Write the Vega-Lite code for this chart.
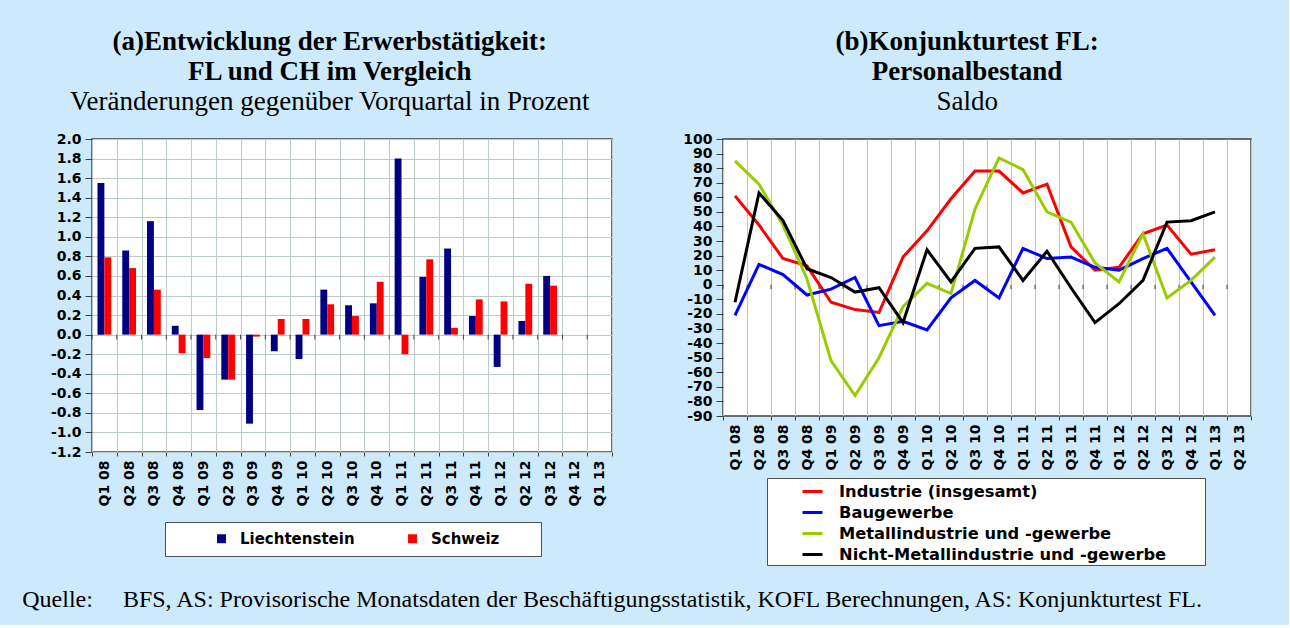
{
  "$schema": "https://vega.github.io/schema/vega-lite/v6.json",
  "background": "#cdeafc",
  "padding": {"left": 22, "top": 27, "right": 36, "bottom": 12},
  "datasets": {
    "erwerb": [
      {"q": "Q1 08", "land": "Liechtenstein", "v": 1.55}, {"q": "Q1 08", "land": "Schweiz", "v": 0.79},
      {"q": "Q2 08", "land": "Liechtenstein", "v": 0.86}, {"q": "Q2 08", "land": "Schweiz", "v": 0.68},
      {"q": "Q3 08", "land": "Liechtenstein", "v": 1.16}, {"q": "Q3 08", "land": "Schweiz", "v": 0.46},
      {"q": "Q4 08", "land": "Liechtenstein", "v": 0.09}, {"q": "Q4 08", "land": "Schweiz", "v": -0.19},
      {"q": "Q1 09", "land": "Liechtenstein", "v": -0.77}, {"q": "Q1 09", "land": "Schweiz", "v": -0.24},
      {"q": "Q2 09", "land": "Liechtenstein", "v": -0.46}, {"q": "Q2 09", "land": "Schweiz", "v": -0.46},
      {"q": "Q3 09", "land": "Liechtenstein", "v": -0.91}, {"q": "Q3 09", "land": "Schweiz", "v": -0.02},
      {"q": "Q4 09", "land": "Liechtenstein", "v": -0.17}, {"q": "Q4 09", "land": "Schweiz", "v": 0.16},
      {"q": "Q1 10", "land": "Liechtenstein", "v": -0.25}, {"q": "Q1 10", "land": "Schweiz", "v": 0.16},
      {"q": "Q2 10", "land": "Liechtenstein", "v": 0.46}, {"q": "Q2 10", "land": "Schweiz", "v": 0.31},
      {"q": "Q3 10", "land": "Liechtenstein", "v": 0.30}, {"q": "Q3 10", "land": "Schweiz", "v": 0.19},
      {"q": "Q4 10", "land": "Liechtenstein", "v": 0.32}, {"q": "Q4 10", "land": "Schweiz", "v": 0.54},
      {"q": "Q1 11", "land": "Liechtenstein", "v": 1.80}, {"q": "Q1 11", "land": "Schweiz", "v": -0.20},
      {"q": "Q2 11", "land": "Liechtenstein", "v": 0.59}, {"q": "Q2 11", "land": "Schweiz", "v": 0.77},
      {"q": "Q3 11", "land": "Liechtenstein", "v": 0.88}, {"q": "Q3 11", "land": "Schweiz", "v": 0.07},
      {"q": "Q4 11", "land": "Liechtenstein", "v": 0.19}, {"q": "Q4 11", "land": "Schweiz", "v": 0.36},
      {"q": "Q1 12", "land": "Liechtenstein", "v": -0.33}, {"q": "Q1 12", "land": "Schweiz", "v": 0.34},
      {"q": "Q2 12", "land": "Liechtenstein", "v": 0.14}, {"q": "Q2 12", "land": "Schweiz", "v": 0.52},
      {"q": "Q3 12", "land": "Liechtenstein", "v": 0.60}, {"q": "Q3 12", "land": "Schweiz", "v": 0.50}
    ],
    "konjunktur": [
      {"q": "Q1 08", "s": "Industrie (insgesamt)", "v": 61}, {"q": "Q2 08", "s": "Industrie (insgesamt)", "v": 41},
      {"q": "Q3 08", "s": "Industrie (insgesamt)", "v": 18}, {"q": "Q4 08", "s": "Industrie (insgesamt)", "v": 13},
      {"q": "Q1 09", "s": "Industrie (insgesamt)", "v": -12}, {"q": "Q2 09", "s": "Industrie (insgesamt)", "v": -17},
      {"q": "Q3 09", "s": "Industrie (insgesamt)", "v": -19}, {"q": "Q4 09", "s": "Industrie (insgesamt)", "v": 19},
      {"q": "Q1 10", "s": "Industrie (insgesamt)", "v": 37}, {"q": "Q2 10", "s": "Industrie (insgesamt)", "v": 59},
      {"q": "Q3 10", "s": "Industrie (insgesamt)", "v": 78}, {"q": "Q4 10", "s": "Industrie (insgesamt)", "v": 78},
      {"q": "Q1 11", "s": "Industrie (insgesamt)", "v": 63}, {"q": "Q2 11", "s": "Industrie (insgesamt)", "v": 69},
      {"q": "Q3 11", "s": "Industrie (insgesamt)", "v": 26}, {"q": "Q4 11", "s": "Industrie (insgesamt)", "v": 10},
      {"q": "Q1 12", "s": "Industrie (insgesamt)", "v": 12}, {"q": "Q2 12", "s": "Industrie (insgesamt)", "v": 35},
      {"q": "Q3 12", "s": "Industrie (insgesamt)", "v": 41}, {"q": "Q4 12", "s": "Industrie (insgesamt)", "v": 21},
      {"q": "Q1 13", "s": "Industrie (insgesamt)", "v": 24},
      {"q": "Q1 08", "s": "Baugewerbe", "v": -21}, {"q": "Q2 08", "s": "Baugewerbe", "v": 14},
      {"q": "Q3 08", "s": "Baugewerbe", "v": 7}, {"q": "Q4 08", "s": "Baugewerbe", "v": -7},
      {"q": "Q1 09", "s": "Baugewerbe", "v": -3}, {"q": "Q2 09", "s": "Baugewerbe", "v": 5},
      {"q": "Q3 09", "s": "Baugewerbe", "v": -28}, {"q": "Q4 09", "s": "Baugewerbe", "v": -25},
      {"q": "Q1 10", "s": "Baugewerbe", "v": -31}, {"q": "Q2 10", "s": "Baugewerbe", "v": -9},
      {"q": "Q3 10", "s": "Baugewerbe", "v": 3}, {"q": "Q4 10", "s": "Baugewerbe", "v": -9},
      {"q": "Q1 11", "s": "Baugewerbe", "v": 25}, {"q": "Q2 11", "s": "Baugewerbe", "v": 18},
      {"q": "Q3 11", "s": "Baugewerbe", "v": 19}, {"q": "Q4 11", "s": "Baugewerbe", "v": 12},
      {"q": "Q1 12", "s": "Baugewerbe", "v": 10}, {"q": "Q2 12", "s": "Baugewerbe", "v": 18},
      {"q": "Q3 12", "s": "Baugewerbe", "v": 25}, {"q": "Q4 12", "s": "Baugewerbe", "v": 2},
      {"q": "Q1 13", "s": "Baugewerbe", "v": -21},
      {"q": "Q1 08", "s": "Metallindustrie und -gewerbe", "v": 85}, {"q": "Q2 08", "s": "Metallindustrie und -gewerbe", "v": 69},
      {"q": "Q3 08", "s": "Metallindustrie und -gewerbe", "v": 41}, {"q": "Q4 08", "s": "Metallindustrie und -gewerbe", "v": 4},
      {"q": "Q1 09", "s": "Metallindustrie und -gewerbe", "v": -52}, {"q": "Q2 09", "s": "Metallindustrie und -gewerbe", "v": -76},
      {"q": "Q3 09", "s": "Metallindustrie und -gewerbe", "v": -50}, {"q": "Q4 09", "s": "Metallindustrie und -gewerbe", "v": -15},
      {"q": "Q1 10", "s": "Metallindustrie und -gewerbe", "v": 1}, {"q": "Q2 10", "s": "Metallindustrie und -gewerbe", "v": -6},
      {"q": "Q3 10", "s": "Metallindustrie und -gewerbe", "v": 52}, {"q": "Q4 10", "s": "Metallindustrie und -gewerbe", "v": 87},
      {"q": "Q1 11", "s": "Metallindustrie und -gewerbe", "v": 79}, {"q": "Q2 11", "s": "Metallindustrie und -gewerbe", "v": 50},
      {"q": "Q3 11", "s": "Metallindustrie und -gewerbe", "v": 43}, {"q": "Q4 11", "s": "Metallindustrie und -gewerbe", "v": 15},
      {"q": "Q1 12", "s": "Metallindustrie und -gewerbe", "v": 2}, {"q": "Q2 12", "s": "Metallindustrie und -gewerbe", "v": 35},
      {"q": "Q3 12", "s": "Metallindustrie und -gewerbe", "v": -9}, {"q": "Q4 12", "s": "Metallindustrie und -gewerbe", "v": 3},
      {"q": "Q1 13", "s": "Metallindustrie und -gewerbe", "v": 19},
      {"q": "Q1 08", "s": "Nicht-Metallindustrie und -gewerbe", "v": -12}, {"q": "Q2 08", "s": "Nicht-Metallindustrie und -gewerbe", "v": 63},
      {"q": "Q3 08", "s": "Nicht-Metallindustrie und -gewerbe", "v": 44}, {"q": "Q4 08", "s": "Nicht-Metallindustrie und -gewerbe", "v": 11},
      {"q": "Q1 09", "s": "Nicht-Metallindustrie und -gewerbe", "v": 5}, {"q": "Q2 09", "s": "Nicht-Metallindustrie und -gewerbe", "v": -5},
      {"q": "Q3 09", "s": "Nicht-Metallindustrie und -gewerbe", "v": -2}, {"q": "Q4 09", "s": "Nicht-Metallindustrie und -gewerbe", "v": -26},
      {"q": "Q1 10", "s": "Nicht-Metallindustrie und -gewerbe", "v": 24}, {"q": "Q2 10", "s": "Nicht-Metallindustrie und -gewerbe", "v": 2},
      {"q": "Q3 10", "s": "Nicht-Metallindustrie und -gewerbe", "v": 25}, {"q": "Q4 10", "s": "Nicht-Metallindustrie und -gewerbe", "v": 26},
      {"q": "Q1 11", "s": "Nicht-Metallindustrie und -gewerbe", "v": 3}, {"q": "Q2 11", "s": "Nicht-Metallindustrie und -gewerbe", "v": 23},
      {"q": "Q3 11", "s": "Nicht-Metallindustrie und -gewerbe", "v": -2}, {"q": "Q4 11", "s": "Nicht-Metallindustrie und -gewerbe", "v": -26},
      {"q": "Q1 12", "s": "Nicht-Metallindustrie und -gewerbe", "v": -13}, {"q": "Q2 12", "s": "Nicht-Metallindustrie und -gewerbe", "v": 3},
      {"q": "Q3 12", "s": "Nicht-Metallindustrie und -gewerbe", "v": 43}, {"q": "Q4 12", "s": "Nicht-Metallindustrie und -gewerbe", "v": 44},
      {"q": "Q1 13", "s": "Nicht-Metallindustrie und -gewerbe", "v": 50}
    ],
    "quartale": [
      {"q": "Q1 08"}, {"q": "Q2 08"}, {"q": "Q3 08"}, {"q": "Q4 08"}, {"q": "Q1 09"}, {"q": "Q2 09"},
      {"q": "Q3 09"}, {"q": "Q4 09"}, {"q": "Q1 10"}, {"q": "Q2 10"}, {"q": "Q3 10"}, {"q": "Q4 10"},
      {"q": "Q1 11"}, {"q": "Q2 11"}, {"q": "Q3 11"}, {"q": "Q4 11"}, {"q": "Q1 12"}, {"q": "Q2 12"},
      {"q": "Q3 12"}, {"q": "Q4 12"}, {"q": "Q1 13"}, {"q": "Q2 13"}
    ]
  },
  "config": {
    "view": {"fill": "white", "stroke": "#404040", "strokeWidth": 1.5},
    "axis": {
      "labelFont": "DejaVu Sans", "labelFontWeight": "bold", "labelFontSize": 14, "labelColor": "black",
      "labelOverlap": false, "labelExpr": "replace(datum.label, '\u2212', '-')",
      "gridColor": "#bccaca", "gridOpacity": 1, "gridWidth": 1,
      "domainColor": "#404040", "tickColor": "#404040", "title": null
    },
    "legend": {
      "labelFont": "DejaVu Sans", "labelFontWeight": "bold", "labelColor": "black",
      "fillColor": "white", "strokeColor": "#505050"
    }
  },
  "title": {
    "text": "Quelle:\u00a0\u00a0\u00a0\u00a0 BFS, AS: Provisorische Monatsdaten der Beschäftigungsstatistik, KOFL Berechnungen, AS: Konjunkturtest FL.",
    "orient": "bottom", "anchor": "start", "font": "Liberation Serif", "fontSize": 24,
    "fontWeight": "normal", "color": "black", "offset": 22
  },
  "spacing": 68,
  "resolve": {"scale": {"color": "independent", "x": "independent", "y": "independent"}, "legend": {"color": "independent"}},
  "hconcat": [
    {
      "width": 520,
      "height": 313,
      "title": {
        "text": ["(a)Entwicklung der Erwerbstätigkeit:", "FL und CH im Vergleich"],
        "subtitle": "Veränderungen gegenüber Vorquartal in Prozent",
        "font": "Liberation Serif", "fontSize": 27, "fontWeight": "bold", "color": "black", "lineHeight": 30,
        "subtitleFont": "Liberation Serif", "subtitleFontSize": 27, "subtitleFontWeight": "normal",
        "subtitleColor": "black", "subtitleLineHeight": 30, "subtitlePadding": 3,
        "anchor": "middle", "frame": "bounds", "offset": 16, "dx": 12
      },
      "layer": [
        {
          "data": {"name": "erwerb"},
          "mark": {"type": "bar"},
          "encoding": {
            "x": {
              "field": "q", "type": "ordinal",
              "scale": {"domain": ["Q1 08", "Q2 08", "Q3 08", "Q4 08", "Q1 09", "Q2 09", "Q3 09", "Q4 09", "Q1 10", "Q2 10", "Q3 10", "Q4 10", "Q1 11", "Q2 11", "Q3 11", "Q4 11", "Q1 12", "Q2 12", "Q3 12", "Q4 12", "Q1 13"], "paddingInner": 0, "paddingOuter": 0},
              "axis": {"grid": true, "tickBand": "extent", "labelAngle": -90, "tickSize": 4, "labelPadding": 4, "domain": false}
            },
            "xOffset": {"field": "land", "type": "nominal", "scale": {"domain": ["Liechtenstein", "Schweiz"], "paddingOuter": 0.8, "paddingInner": 0}},
            "y": {
              "field": "v", "type": "quantitative",
              "scale": {"domain": [-1.2, 2.0], "nice": false, "zero": false},
              "axis": {"values": [-1.2, -1.0, -0.8, -0.6, -0.4, -0.2, 0, 0.2, 0.4, 0.6, 0.8, 1.0, 1.2, 1.4, 1.6, 1.8, 2.0], "format": ".1f", "tickSize": 7, "labelPadding": 4, "domain": false, "minExtent": 69}
            },
            "color": {
              "field": "land", "type": "nominal",
              "scale": {"domain": ["Liechtenstein", "Schweiz"], "range": ["#000080", "#ff0000"]},
              "legend": {
                "orient": "none", "legendX": 73, "legendY": 383, "direction": "horizontal",
                "title": "\u00a0", "titleOrient": "right", "titlePadding": 33, "titleFontSize": 15,
                "symbolType": "square", "symbolSize": 80, "symbolStrokeWidth": 0,
                "labelFontSize": 15, "padding": 9, "symbolOffset": 40, "columnPadding": 10, "labelOffset": 11
              }
            }
          }
        },
        {
          "data": {"name": "quartale"},
          "transform": [{"filter": "datum.q != 'Q2 13'"}],
          "mark": {"type": "rule", "color": "#404040", "strokeWidth": 1},
          "encoding": {
            "x": {"field": "q", "type": "ordinal", "bandPosition": 0},
            "y": {"datum": 0, "type": "quantitative",
              "axis": {"values": [-1.2, -1.0, -0.8, -0.6, -0.4, -0.2, 0, 0.2, 0.4, 0.6, 0.8, 1.0, 1.2, 1.4, 1.6, 1.8, 2.0], "format": ".1f", "tickSize": 7, "labelPadding": 4, "domain": false, "minExtent": 69}},
            "y2": {"datum": -0.05}
          }
        },
        {
          "mark": {"type": "rule", "color": "#404040", "strokeWidth": 1.5},
          "encoding": {"y": {"datum": 0, "type": "quantitative",
            "axis": {"values": [-1.2, -1.0, -0.8, -0.6, -0.4, -0.2, 0, 0.2, 0.4, 0.6, 0.8, 1.0, 1.2, 1.4, 1.6, 1.8, 2.0], "format": ".1f", "tickSize": 7, "labelPadding": 4, "domain": false, "minExtent": 69}}}
        }
      ]
    },
    {
      "width": 528,
      "height": 277,
      "title": {
        "text": ["(b)Konjunkturtest FL:", "Personalbestand"],
        "subtitle": "Saldo",
        "font": "Liberation Serif", "fontSize": 27, "fontWeight": "bold", "color": "black", "lineHeight": 30,
        "subtitleFont": "Liberation Serif", "subtitleFontSize": 27, "subtitleFontWeight": "normal",
        "subtitleColor": "black", "subtitleLineHeight": 30, "subtitlePadding": 3,
        "anchor": "middle", "frame": "bounds", "offset": 16
      },
      "layer": [
        {
          "data": {"name": "quartale"},
          "mark": {"type": "rule", "color": "#404040", "strokeWidth": 1},
          "encoding": {
            "x": {
              "field": "q", "type": "ordinal",
              "scale": {"type": "band", "domain": ["Q1 08", "Q2 08", "Q3 08", "Q4 08", "Q1 09", "Q2 09", "Q3 09", "Q4 09", "Q1 10", "Q2 10", "Q3 10", "Q4 10", "Q1 11", "Q2 11", "Q3 11", "Q4 11", "Q1 12", "Q2 12", "Q3 12", "Q4 12", "Q1 13", "Q2 13"], "paddingInner": 0, "paddingOuter": 0},
              "bandPosition": 0,
              "axis": {"grid": true, "tickBand": "extent", "labelAngle": -90, "tickSize": 4, "labelPadding": 4, "domain": false}
            },
            "y": {"datum": 0, "type": "quantitative", "scale": {"domain": [-90, 100], "nice": false, "zero": false},
              "axis": {"values": [-90, -80, -70, -60, -50, -40, -30, -20, -10, 0, 10, 20, 30, 40, 50, 60, 70, 80, 90, 100], "tickSize": 7, "labelPadding": 4, "domain": false}},
            "y2": {"datum": -3}
          }
        },
        {
          "mark": {"type": "rule", "color": "#404040", "strokeWidth": 1.5},
          "encoding": {"y": {"datum": 0, "type": "quantitative",
            "axis": {"values": [-90, -80, -70, -60, -50, -40, -30, -20, -10, 0, 10, 20, 30, 40, 50, 60, 70, 80, 90, 100], "tickSize": 7, "labelPadding": 4, "domain": false}}}
        },
        {
          "data": {"name": "konjunktur"},
          "mark": {"type": "line", "strokeWidth": 3},
          "encoding": {
            "x": {"field": "q", "type": "ordinal"},
            "y": {"field": "v", "type": "quantitative",
              "axis": {"values": [-90, -80, -70, -60, -50, -40, -30, -20, -10, 0, 10, 20, 30, 40, 50, 60, 70, 80, 90, 100], "tickSize": 7, "labelPadding": 4, "domain": false}},
            "color": {
              "field": "s", "type": "nominal",
              "scale": {"domain": ["Industrie (insgesamt)", "Baugewerbe", "Metallindustrie und -gewerbe", "Nicht-Metallindustrie und -gewerbe"], "range": ["#ff0000", "#0000ff", "#99cc00", "#000000"]},
              "legend": {
                "orient": "none", "legendX": 44, "legendY": 339, "direction": "vertical",
                "title": "\u00a0", "titleOrient": "right", "titlePadding": 37, "titleFontSize": 16,
                "symbolType": "stroke", "symbolSize": 400, "symbolStrokeWidth": 3,
                "labelFontSize": 16.3, "labelLimit": 400, "padding": 2, "symbolOffset": 32, "labelOffset": 15, "rowPadding": 1
              }
            }
          }
        }
      ]
    }
  ]
}
